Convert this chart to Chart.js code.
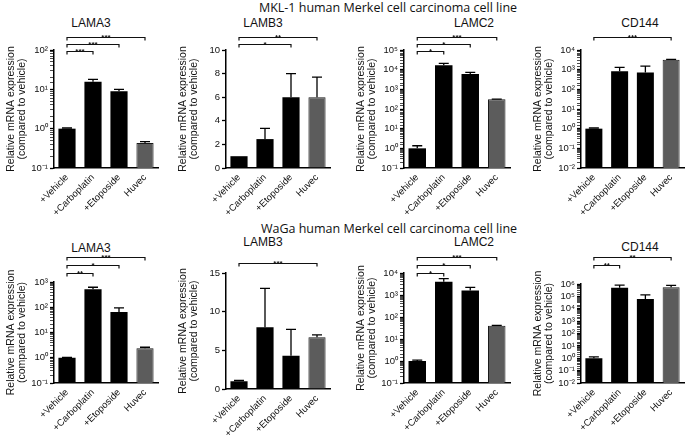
<!DOCTYPE html>
<html>
<head>
<meta charset="utf-8">
<script src="https://cdn.jsdelivr.net/npm/chart.js@4.4.1/dist/chart.umd.min.js"></script>
<style>
  body { margin: 0; background: #fff; }
  #fig { position: relative; width: 685px; height: 436px; overflow: hidden; background: #fff; color: #111; }
  .row-title { position: absolute; font-family: 'Open Sans', sans-serif; font-size: 12.5px; white-space: nowrap; transform: translate(-50%, -50%); }
  .gene { position: absolute; font-family: 'Liberation Sans', Arial, sans-serif; font-size: 12px; white-space: nowrap; transform: translate(-50%, -50%); }
  canvas { position: absolute; }
</style>
</head>
<body>
<div id="fig"></div>
<script>
// categories on every x axis
const categories = ['+Vehicle', '+Carboplatin', '+Etoposide', 'Huvec'];

// MKL-1 cell line: mean and upper end of error bar
const mklLama3 = [1.0, 15.5, 8.9, 0.43];
const mklLama3Err = [1.04, 18, 10, 0.47];
const mklLamb3 = [1.0, 2.45, 6.0, 6.0];
const mklLamb3Err = [1.0, 3.35, 8.0, 7.7];
const mklLamc2 = [1.0, 17000, 6000, 310];
const mklLamc2Err = [1.35, 21000, 7300, 320];
const mklCd144 = [1.0, 820, 720, 3200];
const mklCd144Err = [1.08, 1300, 1500, 3300];

// WaGa cell line
const wagaLama3 = [1.0, 520, 65, 2.4];
const wagaLama3Err = [1.03, 620, 95, 2.6];
const wagaLamb3 = [1.0, 8.0, 4.3, 6.7];
const wagaLamb3Err = [1.1, 13.0, 7.7, 7.0];
const wagaLamc2 = [1.0, 4000, 1600, 40];
const wagaLamc2Err = [1.1, 5500, 2200, 42];
const wagaCd144 = [1.0, 500000, 60000, 550000];
const wagaCd144Err = [1.3, 800000, 130000, 780000];

// y axis ranges [min, max, step for linear]
const rangeMklLama3 = [0.1, 100];
const rangeMklLamb3 = [0, 10, 2];
const rangeMklLamc2 = [0.1, 100000];
const rangeMklCd144 = [0.01, 10000];
const rangeWagaLama3 = [0.1, 1000];
const rangeWagaLamb3 = [0, 15, 5];
const rangeWagaLamc2 = [0.1, 10000];
const rangeWagaCd144 = [0.01, 1000000];

// significance brackets: [from, to, stars, level]
const sigMklLama3 = [[0, 1, '***', 0], [0, 2, '***', 1], [0, 3, '***', 2]];
const sigMklLamb3 = [[0, 2, '*', 1], [0, 3, '**', 2]];
const sigMklLamc2 = [[0, 1, '*', 0], [0, 2, '*', 1], [0, 3, '***', 2]];
const sigMklCd144 = [[0, 3, '***', 2]];
const sigWagaLama3 = [[0, 1, '**', 0], [0, 2, '*', 1], [0, 3, '***', 2]];
const sigWagaLamb3 = [[0, 3, '***', 1.3]];
const sigWagaLamc2 = [[0, 1, '*', 0], [0, 2, '*', 1], [0, 3, '***', 2]];
const sigWagaCd144 = [[0, 1, '**', 1], [0, 3, '**', 2]];

const rowTitles = ['MKL-1 human Merkel cell carcinoma cell line', 'WaGa human Merkel cell carcinoma cell line'];
const genes = ['LAMA3', 'LAMB3', 'LAMC2', 'CD144'];

// layout (pixels)
const colLeft = [54, 226, 404, 581];
const colWidth = [104, 104, 106, 103];
const geneX = [91, 263, 474, 640];
const rows = [
  { canvasTop: 28, canvasBottom: 215, plotTop: [50, 50, 50, 50], plotBottom: [168, 168, 168, 168],
    brBase: 22.5, brStep: 6.75, geneY: [23, 23, 23, 23], titleX: 388, titleY: 7 },
  { canvasTop: 250, canvasBottom: 436, plotTop: [282, 273, 273, 284], plotBottom: [383, 389, 383, 383],
    brBase: 23, brStep: 8, geneY: [248, 242, 242, 247], titleX: 389, titleY: 228 }
];

const panels = [
  [mklLama3, mklLama3Err, rangeMklLama3, sigMklLama3],
  [mklLamb3, mklLamb3Err, rangeMklLamb3, sigMklLamb3],
  [mklLamc2, mklLamc2Err, rangeMklLamc2, sigMklLamc2],
  [mklCd144, mklCd144Err, rangeMklCd144, sigMklCd144],
  [wagaLama3, wagaLama3Err, rangeWagaLama3, sigWagaLama3],
  [wagaLamb3, wagaLamb3Err, rangeWagaLamb3, sigWagaLamb3],
  [wagaLamc2, wagaLamc2Err, rangeWagaLamc2, sigWagaLamc2],
  [wagaCd144, wagaCd144Err, rangeWagaCd144, sigWagaCd144]
];

const FONT = "'Liberation Sans', Arial, sans-serif";
const YAXIS_W = 50;
const supMap = { '-': '\u207B', '0': '\u2070', '1': '\u00B9', '2': '\u00B2', '3': '\u00B3',
  '4': '\u2074', '5': '\u2075', '6': '\u2076', '7': '\u2077', '8': '\u2078', '9': '\u2079' };
const isPow = v => Math.abs(Math.log10(v) - Math.round(Math.log10(v))) < 1e-6;
const sup = v => '10' + String(Math.round(Math.log10(v))).split('').map(c => supMap[c]).join('');

const fig = document.getElementById('fig');

function addText(cls, text, x, y) {
  const d = document.createElement('div');
  d.className = cls;
  d.textContent = text;
  d.style.left = x + 'px';
  d.style.top = y + 'px';
  fig.appendChild(d);
}

// error bars and brackets
function marksPlugin(vals, err, sig, row) {
  return {
    id: 'marks',
    afterDatasetsDraw(chart) {
      const ctx = chart.ctx;
      const y = chart.scales.y;
      const bars = chart.getDatasetMeta(0).data;
      ctx.save();
      ctx.strokeStyle = '#000';
      ctx.lineWidth = 1.3;
      bars.forEach((bar, i) => {
        if (err[i] <= vals[i]) return;
        const y0 = y.getPixelForValue(vals[i]);
        const y1 = y.getPixelForValue(err[i]);
        ctx.beginPath();
        ctx.moveTo(bar.x, y0);
        ctx.lineTo(bar.x, y1);
        ctx.moveTo(bar.x - 5, y1);
        ctx.lineTo(bar.x + 5, y1);
        ctx.stroke();
      });

      ctx.strokeStyle = '#111';
      ctx.fillStyle = '#111';
      ctx.lineWidth = 1.2;
      ctx.font = 'bold 8px ' + FONT;
      ctx.textAlign = 'center';
      ctx.textBaseline = 'alphabetic';
      sig.forEach(([a, b, stars, level]) => {
        const xa = bars[a].x, xb = bars[b].x;
        const yy = Math.round(row.brBase - row.brStep * level) + 0.5;
        ctx.beginPath();
        ctx.moveTo(xa, yy + 3);
        ctx.lineTo(xa, yy);
        ctx.lineTo(xb, yy);
        ctx.lineTo(xb, yy + 3);
        ctx.stroke();
        ctx.fillText(stars, (xa + xb) / 2, yy + 2.5);
      });
      ctx.restore();
    }
  };
}

rowTitles.forEach((t, r) => addText('row-title', t, rows[r].titleX, rows[r].titleY));

panels.forEach(([vals, err, range, sig], k) => {
  const r = Math.floor(k / 4), c = k % 4;
  const row = rows[r];
  addText('gene', genes[c], geneX[c], row.geneY[c]);

  const canvas = document.createElement('canvas');
  const left = colLeft[c] - YAXIS_W;
  const width = YAXIS_W + colWidth[c] + 2;
  const height = row.canvasBottom - row.canvasTop;
  canvas.width = width;
  canvas.height = height;
  canvas.style.left = left + 'px';
  canvas.style.top = row.canvasTop + 'px';
  canvas.style.width = width + 'px';
  canvas.style.height = height + 'px';
  fig.appendChild(canvas);

  const padTop = row.plotTop[c] - row.canvasTop;
  const xHeight = row.canvasBottom - row.plotBottom[c];
  const isLog = range.length === 2;

  const yScale = {
    type: isLog ? 'logarithmic' : 'linear',
    min: range[0],
    max: range[1],
    afterFit(s) { s.width = YAXIS_W; s.paddingTop = 0; s.paddingBottom = 0; },
    border: { color: '#000', width: 1.5 },
    grid: {
      drawOnChartArea: false,
      tickLength: 4,
      tickColor: '#000',
      tickWidth: cx => (!isLog || (cx.tick && isPow(cx.tick.value))) ? 1.3 : 0.7
    },
    ticks: {
      autoSkip: false,
      padding: 2,
      color: '#111',
      font: { size: 9.5, family: FONT },
      callback: v => isLog ? (isPow(v) ? sup(v) : '') : v
    },
    title: {
      display: true,
      text: ['Relative mRNA expression', '(compared to vehicle)'],
      color: '#111',
      font: { size: 10.5, family: FONT, lineHeight: 1.05 },
      padding: { top: 2, bottom: 0 }
    }
  };
  if (!isLog) yScale.ticks.stepSize = range[2];

  new Chart(canvas, {
    type: 'bar',
    data: {
      labels: categories,
      datasets: [{
        data: vals,
        backgroundColor: ['#000', '#000', '#000', '#5c5c5c'],
        borderColor: ['#000', '#000', '#000', '#1a1a1a'],
        borderWidth: [0, 0, 0, 1],
        barPercentage: 0.66,
        categoryPercentage: 1
      }]
    },
    options: {
      responsive: false,
      animation: false,
      events: [],
      layout: { padding: { top: padTop, right: 2, left: 0, bottom: 0 } },
      plugins: { legend: { display: false }, tooltip: { enabled: false }, title: { display: false } },
      scales: {
        x: {
          afterFit(s) { s.height = xHeight; s.paddingLeft = 0; s.paddingRight = 0; },
          border: { color: '#000', width: 1.5 },
          grid: { display: false, drawTicks: false },
          ticks: { minRotation: 45, maxRotation: 45, autoSkip: false, padding: 4, color: '#111', font: { size: 9.5, family: FONT } }
        },
        y: yScale
      }
    },
    plugins: [marksPlugin(vals, err, sig, row)]
  });
});
</script>
</body>
</html>
